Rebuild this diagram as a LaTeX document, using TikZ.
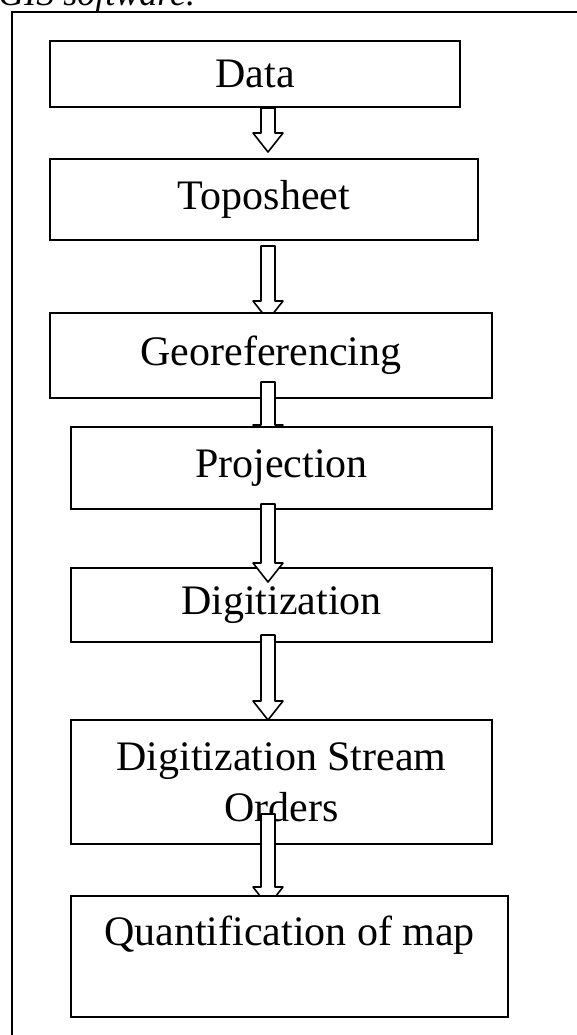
\documentclass[tikz,border=0pt]{standalone}
\usepackage{fontspec}
\setmainfont{Liberation Serif}
\usetikzlibrary{calc}

\pgfdeclarelayer{boxesA}
\pgfdeclarelayer{arrowsA}
\pgfdeclarelayer{boxesB}
\pgfdeclarelayer{arrowsB}
\pgfdeclarelayer{boxesC}
\pgfsetlayers{main,boxesA,arrowsA,boxesB,arrowsB,boxesC}

\tikzset{
  stepbox/.style={draw, fill=white, line width=1pt, inner sep=0pt, align=center,
    font=\fontsize{21pt}{25.5pt}\selectfont},
  blockarrow/.style={draw, fill=white, line width=0.8pt, line join=round},
}

\newcommand\flowarrow[4]{%
  \draw[blockarrow] ($(spine |- #1.south)+(-7,#2)$) -- ($(spine |- #3.north)+(-7,#4-19)$)
    -- ($(spine |- #3.north)+(-15,#4-19)$) -- ($(spine |- #3.north)+(0,#4)$)
    -- ($(spine |- #3.north)+(15,#4-19)$) -- ($(spine |- #3.north)+(7,#4-19)$)
    -- ($(spine |- #1.south)+(7,#2)$) -- cycle;}

\begin{document}
\begin{tikzpicture}[x=0.5pt, y=-0.5pt]
\useasboundingbox (0,0) rectangle (577,1035);

\draw[line width=0.8pt] (600,12) -- (12,12) -- (12,1060);
\node[anchor=base west, inner sep=0pt, font=\fontsize{18pt}{21pt}\selectfont\itshape] (caption) at (-2,5.5) {GIS software.};

\coordinate (spine) at (268,0);

\node[stepbox, minimum width=205pt, minimum height=33pt] (data) at (255,74) {Data};
\node[stepbox, minimum width=214pt, minimum height=40.5pt] (topo) at (264,199.5) {Toposheet};
\node[stepbox, minimum width=210.5pt, minimum height=37pt] (digi) at (281.5,605) {Digitization};
\begin{pgfonlayer}{boxesA}
\node[stepbox, minimum width=221pt, minimum height=42.5pt] (geo) at (271,355.5) {Georeferencing};
\end{pgfonlayer}
\begin{pgfonlayer}{boxesB}
\node[stepbox, minimum width=210.5pt, minimum height=41pt] (proj) at (281.5,468) {Projection};
\node[stepbox, minimum width=210.5pt, minimum height=62pt] (stream) at (281.5,782) {Digitization Stream\\Orders};
\end{pgfonlayer}
\begin{pgfonlayer}{boxesC}
\node[stepbox, minimum width=218.5pt, minimum height=60.5pt] (quant) at (289.5,956.5) {Quantification of map\\~};
\end{pgfonlayer}

\flowarrow{data}{0}{topo}{-6}
\flowarrow{topo}{5}{geo}{8}
\begin{pgfonlayer}{arrowsA}
\flowarrow{geo}{-17}{proj}{18}
\flowarrow{digi}{-8}{stream}{1}
\end{pgfonlayer}
\begin{pgfonlayer}{arrowsB}
\flowarrow{proj}{-6}{digi}{15}
\flowarrow{stream}{-31}{quant}{11}
\end{pgfonlayer}

\end{tikzpicture}
\end{document}
